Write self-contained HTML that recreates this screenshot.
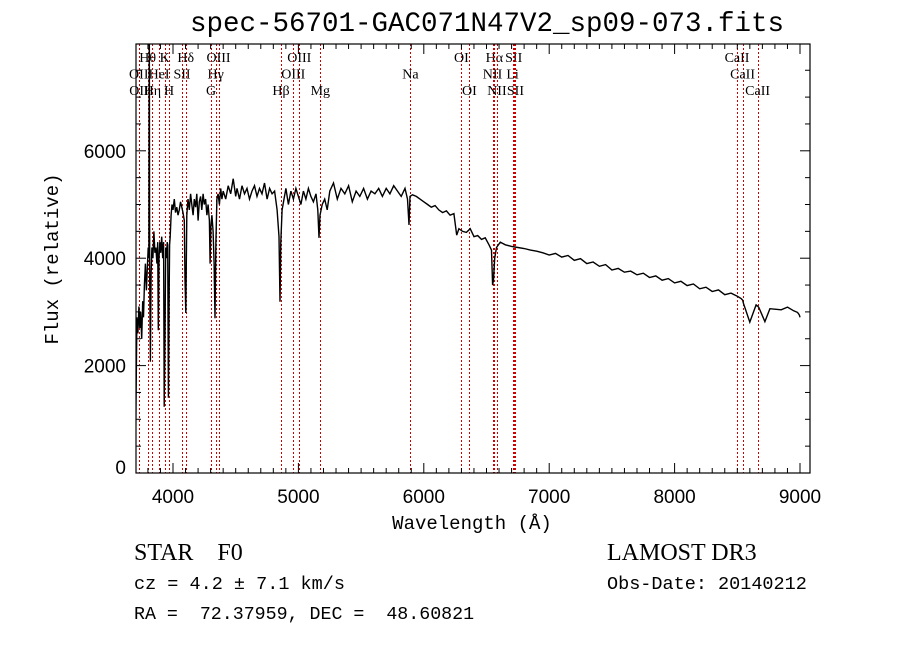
<!DOCTYPE html>
<html><head><meta charset="utf-8"><style>
body{margin:0;background:#fff;width:900px;height:649px;overflow:hidden}
svg{display:block}
text{fill:#000}
</style></head><body>
<svg id="chart" width="900" height="649" xmlns="http://www.w3.org/2000/svg">
<rect width="900" height="649" fill="#fff"/>
<text x="487" y="31" text-anchor="middle" font-family="Liberation Mono, monospace" font-size="27.5">spec-56701-GAC071N47V2_sp09-073.fits</text>
<text transform="translate(58,259) rotate(-90)" text-anchor="middle" font-family="Liberation Mono, monospace" font-size="19">Flux (relative)</text>
<text x="472" y="529" text-anchor="middle" font-family="Liberation Mono, monospace" font-size="19">Wavelength (Å)</text>
<text x="134" y="560" font-family="Liberation Serif, serif" font-size="24" xml:space="preserve">STAR    F0</text>
<text x="134" y="589" font-family="Liberation Mono, monospace" font-size="18.5">cz = 4.2 ± 7.1 km/s</text>
<text x="134" y="619" font-family="Liberation Mono, monospace" font-size="18.3" xml:space="preserve">RA =  72.37959, DEC =  48.60821</text>
<text x="607" y="560" font-family="Liberation Serif, serif" font-size="24">LAMOST DR3</text>
<text x="607" y="589" font-family="Liberation Mono, monospace" font-size="18.5">Obs-Date: 20140212</text>
<g id="g"></g>
</svg>
<script>
const waves=[3700,3705,3712,3720,3728,3735,3742,3750,3758,3765,3772,3780,3788,3795,3802,3808,3811,3814,3820,3825,3832,3840,3848,3856,3864,3872,3878,3883,3888,3895,3902,3910,3918,3925,3930,3936,3942,3948,3954,3958,3963,3968,3973,3978,3985,3992,4000,4010,4020,4030,4040,4050,4060,4070,4080,4090,4096,4102,4110,4120,4130,4140,4150,4160,4170,4180,4190,4200,4210,4220,4230,4240,4250,4260,4270,4280,4290,4296,4302,4310,4320,4328,4335,4342,4350,4360,4370,4380,4390,4400,4420,4440,4460,4480,4500,4510,4530,4550,4570,4590,4610,4630,4650,4670,4690,4710,4730,4750,4770,4790,4810,4830,4845,4853,4860,4870,4885,4900,4920,4940,4960,4980,5000,5020,5040,5060,5080,5100,5120,5140,5155,5164,5172,5190,5210,5230,5250,5280,5310,5340,5370,5400,5430,5460,5490,5520,5550,5580,5610,5640,5670,5700,5730,5760,5790,5820,5850,5870,5882,5890,5910,5940,5970,6000,6030,6060,6090,6120,6150,6180,6210,6240,6262,6280,6310,6340,6370,6400,6430,6460,6490,6520,6540,6549,6556,6565,6580,6610,6650,6700,6750,6800,6850,6900,6950,7000,7050,7100,7150,7200,7250,7300,7350,7400,7450,7500,7550,7600,7650,7700,7750,7800,7850,7900,7950,8000,8050,8100,8150,8200,8250,8300,8350,8400,8450,8500,8530,8542,8550,8600,8650,8662,8672,8720,8760,8800,8850,8900,8950,8980,8990,8995,9000];
const fluxes=[0,1300,2900,2600,3100,2700,3000,2500,3200,2900,3500,3900,3400,3800,4200,4000,8500,3600,2070,3700,4200,4000,4500,4100,4200,3900,4300,2660,4000,4300,4100,4400,4000,4300,1235,2600,4200,4000,4300,4250,1400,3000,4250,4400,4800,5000,4900,5100,4850,4950,4800,4900,5050,4950,4850,4700,3600,2980,4800,5100,4900,5200,5000,4800,5100,4950,5200,4700,5050,5150,4900,5200,5000,5100,4800,5000,4700,3900,4600,4800,4500,3900,2880,4300,5100,5200,5000,5300,5100,5250,5100,5350,5200,5480,5150,5300,5100,5350,5200,5300,5100,5250,5350,5150,5300,5200,5400,5100,5300,5200,5250,4900,4400,3190,4300,4900,5100,5300,5000,5250,5100,5300,5150,5000,5250,5100,5300,5150,5050,5200,4900,4380,4800,5000,5100,4900,5250,5400,5100,5300,5200,5350,5050,5250,5150,5300,5100,5250,5200,5300,5150,5300,5200,5350,5250,5150,5300,5100,4620,5150,5180,5150,5100,5050,5000,4950,4980,4900,4850,4880,4800,4830,4430,4550,4500,4480,4550,4400,4420,4350,4380,4250,4150,3500,3600,4000,4200,4300,4250,4220,4200,4180,4150,4130,4100,4060,4090,4020,4050,3960,3990,3900,3930,3850,3880,3780,3810,3740,3760,3690,3720,3640,3670,3590,3620,3540,3570,3490,3520,3430,3460,3380,3410,3320,3350,3290,3250,3220,3150,2810,3130,3110,3080,2820,3060,3050,3040,3090,3020,2990,2960,2940,2900,2400,600];
const xTicks=[4000,5000,6000,7000,8000,9000];
const yTicks=[0,2000,4000,6000];
const lineWaves=[3798,3934,4102,4363,5007,6300,6563,6717,8498, 3727,3889,4072,4340,4959,5893,6548,6708,8542, 3729,3835,3969,4304,4861,5175,6364,6583,6731,8662];
const lineLabels=["Hθ","K","Hδ","OIII","OIII","OI","Hα","SII","CaII", "OII","HeI","SII","Hγ","OIII","Na","NII","Li","CaII", "OII","Hη","H","G","Hβ","Mg","OI","NII","SII","CaII"];
const lineRows=[0,0,0,0,0,0,0,0,0, 1,1,1,1,1,1,1,1,1, 2,2,2,2,2,2,2,2,2,2];

const L=136,R=810,T=44,B=473;
const xs=w=>173+(w-4000)*0.1254;
const ys=f=>473-f*0.0537;
const NS="http://www.w3.org/2000/svg";
const g=document.getElementById('g');
function mk(t,a){const e=document.createElementNS(NS,t);for(const k in a)e.setAttribute(k,a[k]);g.appendChild(e);return e;}

const defs=mk('defs',{});
const cp=document.createElementNS(NS,'clipPath');cp.setAttribute('id','pc');
const cr=document.createElementNS(NS,'rect');cr.setAttribute('x',L);cr.setAttribute('y',T);cr.setAttribute('width',R-L);cr.setAttribute('height',B-T);
cp.appendChild(cr);defs.appendChild(cp);

lineWaves.forEach((w,i)=>{
  const x=Math.round(xs(w))+0.5;
  const ln=mk('line',{x1:x,x2:x,y1:T,y2:B,stroke:'#d00000','stroke-width':1,'stroke-dasharray':'2,2','shape-rendering':'crispEdges'});
  
  
  const tx=mk('text',{x:xs(w),y:62+lineRows[i]*16.5,'text-anchor':'middle','font-family':'Liberation Serif, serif','font-size':14});
  tx.textContent=lineLabels[i];
  
  
});

let d='';
waves.forEach((w,i)=>{d+=(i?'L':'M')+xs(w).toFixed(1)+','+ys(fluxes[i]).toFixed(1);});
const sp=mk('path',{d:d,fill:'none',stroke:'#000','stroke-width':1.4,'clip-path':'url(#pc)'});



const fr=mk('rect',{x:L,y:T,width:R-L,height:B-T,fill:'none',stroke:'#000','stroke-width':1.2});



for(let w=3700;w<=9100;w+=100){
  const x=xs(w); if(x<L||x>R)continue;
  const len=(w%1000===0)?10:5;
  mk('line',{x1:x,x2:x,y1:B,y2:B-len,stroke:'#000'});
  mk('line',{x1:x,x2:x,y1:T,y2:T+len,stroke:'#000'});
}
xTicks.forEach(w=>{
  const t=mk('text',{x:xs(w),y:503,'text-anchor':'middle','font-family':'Liberation Sans, sans-serif','font-size':19});
  t.textContent=w;
  
  
});
for(let f=0;f<=8000;f+=500){
  const y=ys(f); if(y<T)continue;
  const len=(f%2000===0)?10:5;
  mk('line',{x1:L,x2:L+len,y1:y,y2:y,stroke:'#000'});
  mk('line',{x1:R,x2:R-len,y1:y,y2:y,stroke:'#000'});
}
yTicks.forEach(f=>{
  const t=mk('text',{x:126,y:Math.min(ys(f)+7,474),'text-anchor':'end','font-family':'Liberation Sans, sans-serif','font-size':19});
  t.textContent=f;
  
  
});
</script>
</body></html>
